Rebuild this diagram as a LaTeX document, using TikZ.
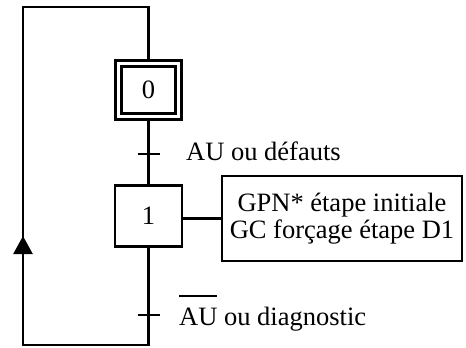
\documentclass[tikz,border=0pt]{standalone}
\usepackage{fontspec}
\setmainfont{Liberation Serif}
\usetikzlibrary{arrows.meta}
\begin{document}
\begin{tikzpicture}[x=1pt,y=1pt,line width=2.4pt,
  bigfont/.style={font=\fontsize{26.5}{28}\selectfont},
  stepbox/.style={draw,minimum width=67pt,minimum height=61pt,inner sep=0pt,bigfont},
  lbl/.style={anchor=base west,inner sep=0pt,bigfont},
  actbox/.style={draw,minimum width=240pt,minimum height=85pt,inner sep=0pt,align=center,bigfont}]
\useasboundingbox (0,0) rectangle (466,-348);
% steps
\node[stepbox,line width=3.8pt,minimum height=59pt,minimum width=66pt] (s0) at (148.5,-90) {};
\node[draw,line width=2.6pt,minimum width=54pt,minimum height=47pt,inner sep=0pt,bigfont] (s0i) at (s0.center) {0};
\node[stepbox] (s1) at (148.5,-216) {1};
\node[actbox] (a1) at (342,-218.5) {GPN* étape initiale\\[-1pt]GC forçage étape D1};
% loop corners
\coordinate (tr) at (148.5,-7);
\coordinate (tl) at (23,-7);
\coordinate (bl) at (23,-345);
\coordinate (br) at (148.5,-345);
\coordinate (t1) at (148.5,-154);
\coordinate (t2) at (148.5,-315);
\coordinate (arrbase) at (23,-262);
\coordinate (arrtip) at (23,-236);
% links
\draw (s0.south) -- (s1.north);
\draw (s1.south) -- (br) -- (bl) -- (tl) -- (tr) -- (s0.north);
\draw (s1.east |- a1.west) -- (a1.west);
\draw[-{Triangle[length=18pt,width=19pt]}] (arrbase) -- (arrtip);
% transitions
\draw ([xshift=-11pt]t1) -- ([xshift=11pt]t1);
\draw ([xshift=-11pt]t2) -- ([xshift=11pt]t2);
\node[lbl] (l1) at (185,-160) {AU ou défauts};
\node[lbl] (l2) at (178,-325) {{\setbox0\hbox{AU}\rlap{\rule[28pt]{\wd0}{1.8pt}}AU} ou diagnostic};
\end{tikzpicture}
\end{document}
